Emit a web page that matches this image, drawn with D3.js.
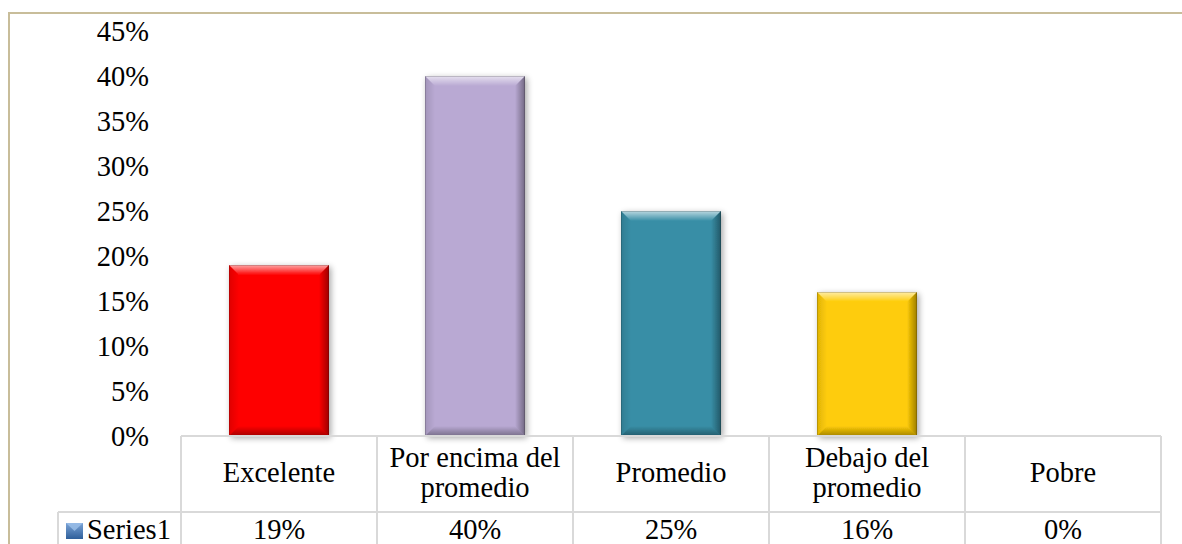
<!DOCTYPE html>
<html>
<head>
<meta charset="utf-8">
<script src="https://cdn.jsdelivr.net/npm/d3@7"></script>
<style>
  html, body { margin: 0; padding: 0; background: #ffffff; }
  svg { display: block; }
</style>
</head>
<body>
<svg id="chart" width="1182" height="544"></svg>
<script>
// Chart data
const categories = ["Excelente", "Por encima del promedio", "Promedio", "Debajo del promedio", "Pobre"];
const categoryLines = [["Excelente"], ["Por encima del", "promedio"], ["Promedio"], ["Debajo del", "promedio"], ["Pobre"]];
const values = [0.19, 0.40, 0.25, 0.16, 0.00];
const valueLabels = ["19%", "40%", "25%", "16%", "0%"];
const barColors = ["#fe0303", "#b9a9d3", "#388ea6", "#fecc07"];
const seriesName = "Series1";
const yTicks = [0, 0.05, 0.10, 0.15, 0.20, 0.25, 0.30, 0.35, 0.40, 0.45];

const svg = d3.select("#chart");
const W = 1182, H = 544;
const FONT = '"Liberation Serif", "Times New Roman", serif';
const fontSize = "28.5px";

const x = d3.scaleBand().domain(categories).range([181, 1161]).paddingInner(0.49).paddingOuter(0.245);
const y = d3.scaleLinear().domain([0, 0.45]).range([436, 31]);

const defs = svg.append("defs");

// Soft drop shadow behind each bar
const shadow = defs.append("filter").attr("id", "shadow")
  .attr("x", "-20%").attr("y", "-10%").attr("width", "140%").attr("height", "125%");
shadow.append("feGaussianBlur").attr("in", "SourceAlpha").attr("stdDeviation", 3).attr("result", "b");
shadow.append("feOffset").attr("in", "b").attr("dx", 2).attr("dy", 2).attr("result", "o");
shadow.append("feComponentTransfer").attr("in", "o").attr("result", "s")
  .append("feFuncA").attr("type", "linear").attr("slope", 0.35);
const merge = shadow.append("feMerge");
merge.append("feMergeNode").attr("in", "s");
merge.append("feMergeNode").attr("in", "SourceGraphic");

// Bevel gradients: one per side direction
function grad(id, x1, y1, x2, y2, color, a0) {
  const g = defs.append("linearGradient").attr("id", id)
    .attr("x1", x1).attr("y1", y1).attr("x2", x2).attr("y2", y2);
  g.append("stop").attr("offset", "0%").attr("stop-color", color).attr("stop-opacity", a0);
  g.append("stop").attr("offset", "100%").attr("stop-color", color).attr("stop-opacity", 0);
}
grad("bvTop", "0", "0", "0", "1", "#ffffff", 0.65);
grad("bvLeft", "0", "0", "1", "0", "#000000", 0.12);
grad("bvRight", "1", "0", "0", "0", "#000000", 0.38);
grad("bvBottom", "0", "1", "0", "0", "#000000", 0.35);

function bevelBox(g, x0, y0, w, h, color, b) {
  g.append("rect").attr("x", x0).attr("y", y0).attr("width", w).attr("height", h)
    .attr("fill", color);
  const x1 = x0 + w, y1 = y0 + h;
  const faces = [
    ["bvTop", [[x0, y0], [x1, y0], [x1 - b, y0 + b], [x0 + b, y0 + b]]],
    ["bvLeft", [[x0, y0], [x0 + b, y0 + b], [x0 + b, y1 - b], [x0, y1]]],
    ["bvRight", [[x1, y0], [x1, y1], [x1 - b, y1 - b], [x1 - b, y0 + b]]],
    ["bvBottom", [[x0, y1], [x0 + b, y1 - b], [x1 - b, y1 - b], [x1, y1]]]
  ];
  faces.forEach(([id, pts]) => {
    g.append("polygon").attr("points", pts.map(p => p.join(",")).join(" "))
      .attr("fill", `url(#${id})`);
  });
  g.append("rect").attr("x", x0 + 0.5).attr("y", y0 + 0.5).attr("width", w - 1).attr("height", h - 1)
    .attr("fill", "none").attr("stroke", "#000").attr("stroke-opacity", 0.18);
}

// Outer chart frame
svg.append("path").attr("d", `M9,${H} V13 H${W}`)
  .attr("fill", "none").attr("stroke", "#c8bd9a").attr("stroke-width", 2);

// Y axis labels
const yAxis = d3.axisLeft(y).tickValues(yTicks).tickFormat(d3.format(".0%")).tickSize(0).tickPadding(0);
const yg = svg.append("g").attr("transform", "translate(149,0)").call(yAxis);
yg.select(".domain").remove();
yg.selectAll("text")
  .style("font-family", FONT).style("font-size", fontSize)
  .attr("fill", "#000").attr("dy", "0.34em");

// Bars
const bars = svg.append("g");
categories.forEach((c, i) => {
  if (values[i] <= 0) return;
  const top = y(values[i]);
  const g = bars.append("g").attr("filter", "url(#shadow)");
  bevelBox(g, x(c), top, x.bandwidth(), y(0) - top, barColors[i], 10);
});

// Data table below the plot
const table = svg.append("g");
const lineColor = "#d9d9d9";
const colEdges = categories.map(c => x(c) - (x.step() - x.bandwidth()) / 2).concat([1161]);
const rowTop = 436, rowMid = 512, rowBot = 560;
table.append("line").attr("x1", 181).attr("x2", 1161).attr("y1", rowTop).attr("y2", rowTop)
  .attr("stroke", lineColor).attr("stroke-width", 2);
table.append("line").attr("x1", 58).attr("x2", 1161).attr("y1", rowMid).attr("y2", rowMid)
  .attr("stroke", lineColor).attr("stroke-width", 2);
table.append("line").attr("x1", 58).attr("x2", 58).attr("y1", rowMid).attr("y2", rowBot)
  .attr("stroke", lineColor).attr("stroke-width", 2);
colEdges.forEach(xe => {
  table.append("line").attr("x1", xe).attr("x2", xe).attr("y1", rowTop).attr("y2", rowBot)
    .attr("stroke", lineColor).attr("stroke-width", 2);
});

// Category labels and value row
categories.forEach((c, i) => {
  const cx = x(c) + x.bandwidth() / 2;
  const lines = categoryLines[i];
  const lh = 30;
  const t = table.append("text").attr("text-anchor", "middle")
    .style("font-family", FONT).style("font-size", fontSize).attr("fill", "#000");
  lines.forEach((ln, k) => {
    t.append("tspan").attr("x", cx)
      .attr("y", 472 + (k - (lines.length - 1) / 2) * lh)
      .attr("dy", "0.34em").text(ln);
  });
  table.append("text").attr("x", cx).attr("y", 539).attr("text-anchor", "middle")
    .style("font-family", FONT).style("font-size", fontSize).attr("fill", "#000")
    .text(valueLabels[i]);
});

// Legend key for the series row
const legendGrad = defs.append("linearGradient").attr("id", "legendFill")
  .attr("x1", "0").attr("y1", "0").attr("x2", "0").attr("y2", "1");
legendGrad.append("stop").attr("offset", "0%").attr("stop-color", "#7aa3d6");
legendGrad.append("stop").attr("offset", "100%").attr("stop-color", "#2f5f9a");
table.append("rect").attr("x", 66).attr("y", 523).attr("width", 17).attr("height", 16)
  .attr("fill", "url(#legendFill)");
table.append("polygon").attr("points", "66,523 83,523 74.5,531")
  .attr("fill", "#9cc0ea").attr("opacity", 0.8);
table.append("text").attr("x", 87).attr("y", 539)
  .style("font-family", FONT).style("font-size", fontSize).attr("fill", "#000")
  .text(seriesName);
</script>
</body>
</html>
